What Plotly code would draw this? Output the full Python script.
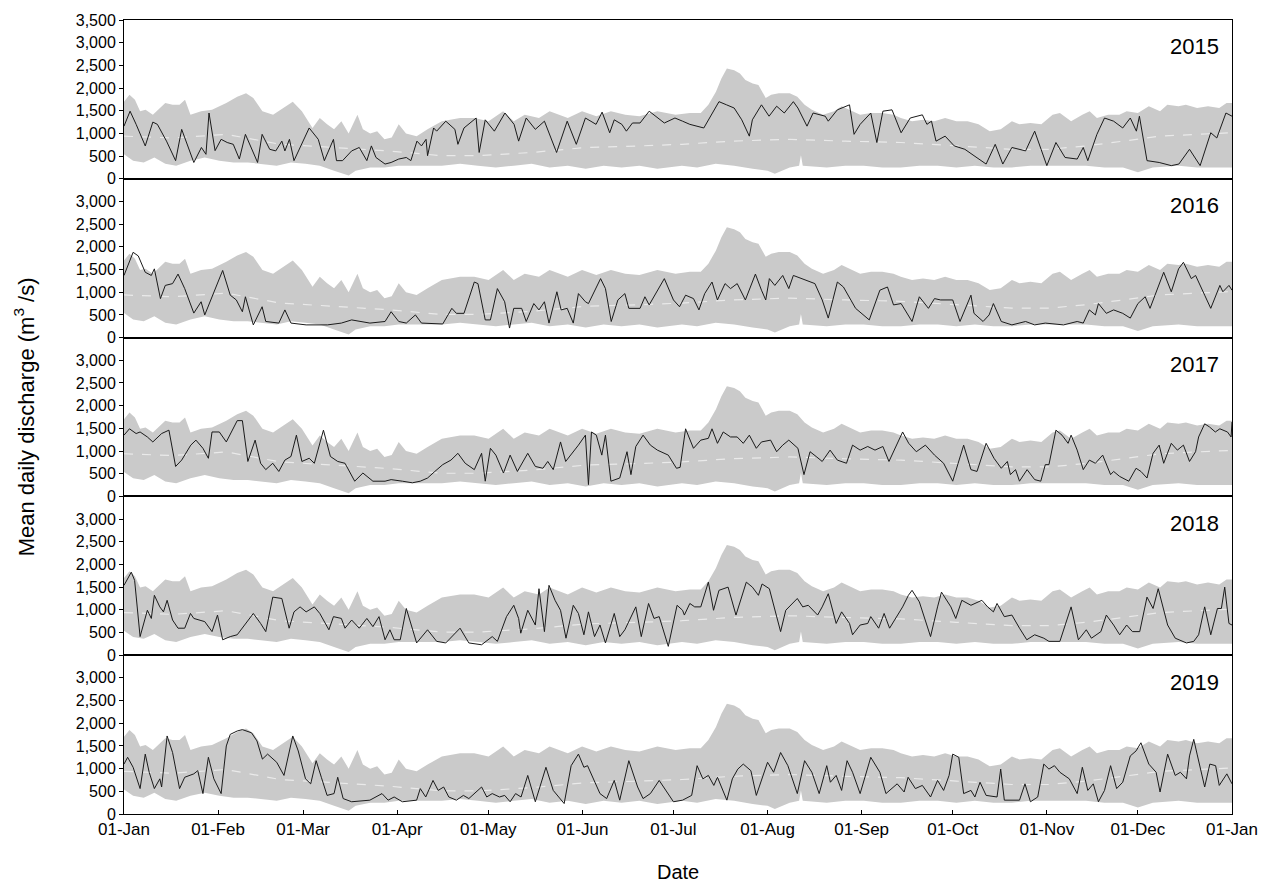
import plotly.graph_objects as go
from plotly.subplots import make_subplots

# ---------------- data (day of year, discharge m3/s) ----------------
years = ["2015", "2016", "2017", "2018", "2019"]

month_days = [0, 31, 59, 90, 120, 151, 181, 212, 243, 273, 304, 334, 365]
month_labels = ["01-Jan", "01-Feb", "01-Mar", "01-Apr", "01-May", "01-Jun", "01-Jul",
                "01-Aug", "01-Sep", "01-Oct", "01-Nov", "01-Dec", "01-Jan"]

y_ticks_top = [0, 500, 1000, 1500, 2000, 2500, 3000, 3500]
y_ticks = [0, 500, 1000, 1500, 2000, 2500, 3000]

# historical envelope (upper / lower) and long-term mean
band_upper = [(0, 1700), (1.8, 1850), (3.6, 1740), (5.3, 1490), (7.1, 1520), (9.5, 1410), (13.6, 1670),
              (16, 1630), (18.3, 1630), (20.1, 1740), (21.9, 1410), (25.4, 1490), (29, 1520), (33.7, 1670),
              (37.3, 1810), (40.2, 1885), (42.6, 1780), (45.6, 1490), (49.1, 1410), (52.7, 1560), (55.6, 1700),
              (58.6, 1490), (62.1, 1120), (64.5, 1340), (66.9, 1200), (69.2, 1090), (71.6, 1270), (74, 1000),
              (76.9, 1410), (78.7, 1090), (81.1, 1000), (83.4, 1050), (85.8, 870), (88.2, 910), (90.5, 1200),
              (92.9, 1000), (96.4, 940), (100, 1090), (104.7, 1270), (110.7, 1340), (115.4, 1340),
              (120.1, 1270), (124.9, 1490), (128.4, 1270), (132, 1410), (136.7, 1340), (140.2, 1490),
              (146.2, 1340), (150.9, 1490), (155.6, 1380), (160.4, 1490), (165.1, 1410), (169.8, 1380),
              (175.7, 1490), (181.7, 1410), (186.4, 1450), (190, 1450), (192.5, 1630), (195, 1920),
              (196.8, 2210), (198.6, 2430), (201, 2390), (202.9, 2320), (204.7, 2175), (207.1, 2100),
              (209, 2070), (211.4, 1780), (213.2, 1850), (215.7, 1885), (219.3, 1885), (221.8, 1810),
              (224.2, 1630), (226.6, 1520), (230.3, 1410), (233.9, 1490), (236.4, 1600), (238.8, 1520),
              (242.5, 1410), (246.1, 1450), (249.8, 1450), (253.5, 1410), (255.9, 1340), (259.6, 1270),
              (263.2, 1300), (266.9, 1270), (270.5, 1340), (274.2, 1270), (277.9, 1270), (281.5, 1200),
              (285.2, 1050), (288.8, 1090), (292.5, 1270), (295, 1200), (298.6, 1230), (302.2, 1200),
              (305.9, 1410), (308.3, 1450), (312, 1270), (315.7, 1410), (318.1, 1490), (320.5, 1340),
              (324.2, 1410), (327.9, 1410), (330.3, 1490), (334, 1450), (337.6, 1600), (341.3, 1490),
              (343.7, 1630), (347.4, 1600), (349.8, 1630), (353.5, 1560), (357.1, 1600), (360.8, 1560),
              (363.2, 1670), (365, 1670)]

band_lower = [(0, 540), (3, 400), (6.5, 360), (10, 470), (13.6, 330), (17.2, 290), (21.9, 400), (26.6, 470),
              (31.4, 400), (36.1, 360), (40.8, 360), (45.6, 330), (50.3, 290), (55, 360), (59.8, 330),
              (64.5, 290), (69.2, 180), (74, 70), (76.3, 180), (81.1, 250), (85.8, 250), (90.5, 290),
              (95.3, 290), (100, 290), (104.7, 290), (110.7, 330), (116.6, 290), (122.5, 250), (128.4, 290),
              (134.3, 330), (140.2, 250), (146.2, 290), (152.1, 220), (158, 290), (163.9, 250), (169.8, 290),
              (175.7, 220), (183.8, 290), (188.8, 250), (194.9, 330), (201, 290), (207.1, 220), (212, 180),
              (214.4, 110), (219.3, 250), (222.4, 290), (223, 520), (223.6, 290), (225.4, 290), (231.5, 250),
              (237.6, 290), (243.7, 290), (249.8, 250), (255.9, 250), (262, 290), (268.1, 290), (274.2, 250),
              (280.3, 290), (286.4, 250), (292.5, 250), (298.6, 290), (304.7, 290), (310.8, 290),
              (316.9, 290), (323, 250), (329.1, 250), (334, 145), (338.9, 250), (347.4, 290), (353.5, 250),
              (359.6, 250), (365, 250)]

mean_flow = [(0, 940), (16, 900), (33.7, 980), (51.5, 760), (69.2, 690), (87, 615), (104.7, 510),
             (116.6, 510), (134.3, 580), (152.1, 690), (169.8, 725), (183.8, 760), (200, 830), (219.3, 870),
             (237.6, 830), (255.9, 800), (274.2, 725), (292.5, 650), (304.7, 650), (316.9, 725),
             (329.1, 830), (341.3, 940), (353.5, 980), (365, 1015)]

# daily discharge of each year
obs_2015 = [(0, 1160), (2, 1490), (4, 1200), (7, 725), (9.5, 1250), (11, 1200), (14, 830), (17, 400),
            (19, 1090), (23, 360), (25.5, 690), (27, 540), (28, 1450), (30, 620), (32, 870), (34, 800),
            (36, 760), (38, 435), (40, 980), (44, 360), (45.5, 980), (48, 650), (50, 615), (52, 830),
            (53, 615), (54.5, 870), (56, 400), (61, 1120), (64, 870), (66, 400), (69, 870), (70, 400),
            (72, 400), (75, 615), (77.5, 690), (80, 400), (81.5, 725), (83, 470), (86, 325), (88, 360),
            (90.5, 435), (93, 470), (94.5, 400), (96.5, 830), (98, 725), (99.5, 870), (100, 510),
            (102, 1120), (103, 1050), (106, 1270), (109, 1090), (110, 760), (112, 1120), (116, 1340),
            (117, 580), (119, 1300), (122, 1050), (125.5, 1450), (128.5, 1200), (130, 830), (132.5, 1340),
            (135.5, 1090), (138.5, 1270), (142.5, 580), (146, 1270), (149, 760), (152, 1340), (155.5, 1200),
            (157.5, 1470), (160, 1015), (161.5, 1300), (164, 1200), (165.5, 1050), (167.5, 1230),
            (170, 1230), (173, 1490), (178, 1230), (181.5, 1340), (184, 1270), (186.4, 1200), (191, 1120),
            (194, 1450), (196, 1700), (198.5, 1630), (201, 1560), (203.5, 1300), (206, 940), (207, 1300),
            (210, 1630), (212.5, 1380), (215, 1600), (217.5, 1450), (220.5, 1700), (222, 1560),
            (225, 1160), (227, 1450), (231, 1380), (232, 1270), (235, 1520), (239, 1630), (240.5, 980),
            (242.5, 1200), (246, 1450), (248, 800), (250, 1490), (253, 1520), (256, 1015), (259, 1340),
            (263, 1410), (264.5, 1200), (266, 1270), (267.5, 830), (270.5, 940), (273.5, 725), (277, 650),
            (280, 510), (284, 325), (287, 760), (289.5, 325), (292.5, 690), (297, 615), (300, 1050),
            (304, 290), (307, 800), (310, 470), (314, 435), (316, 690), (317.5, 400), (320.5, 980),
            (323, 1340), (326, 1270), (329, 1120), (331.5, 1340), (333.5, 1050), (334.5, 1380), (337, 400),
            (341, 360), (345, 290), (347.5, 325), (351, 650), (354.5, 290), (358, 1015), (360, 900),
            (363, 1450), (365, 1380)]

obs_2016 = [(0, 1370), (3, 1880), (4.7, 1800), (7, 1440), (9, 1370), (10, 1515), (12, 860), (13.6, 1150),
            (16, 1190), (17.8, 1400), (20, 1080), (23, 540), (25.4, 790), (26.6, 500), (32.5, 1480),
            (35, 935), (37, 830), (39, 570), (40, 900), (42.6, 280), (45.5, 680), (46.7, 355), (51, 320),
            (53, 610), (55, 320), (60, 280), (67, 280), (71.6, 320), (75, 390), (78.7, 355), (81, 320),
            (86, 355), (88, 570), (90.5, 355), (93, 320), (96, 500), (98, 320), (105, 300), (108, 645),
            (109.5, 535), (112, 535), (115.4, 1225), (116.6, 1190), (119, 390), (120.7, 390), (123, 1080),
            (125.4, 790), (127, 210), (128.4, 645), (131, 645), (132.5, 355), (135, 750), (136.7, 610),
            (138.5, 790), (140, 320), (142.6, 1010), (144, 610), (146, 645), (148, 320), (149.7, 970),
            (152, 790), (153, 750), (157, 1300), (158.6, 1080), (160.5, 355), (162.7, 830), (165, 970),
            (166.3, 645), (170, 645), (171.6, 900), (173, 720), (178, 1300), (181, 830), (183, 680),
            (185, 935), (187.6, 860), (189.4, 610), (191.3, 970), (193.7, 1225), (195.5, 830), (198, 1190),
            (199.8, 1080), (202, 1190), (204.7, 830), (208, 1400), (210, 1045), (211.4, 830), (212.6, 1300),
            (214.4, 1150), (217, 1370), (219, 1080), (220.5, 1370), (222, 1335), (227.6, 1190), (230, 830),
            (232, 430), (235, 1225), (237, 1115), (241, 645), (245.5, 390), (249, 1045), (251.5, 1115),
            (253.5, 720), (256, 750), (259.6, 355), (262, 900), (265, 645), (267, 860), (269, 830),
            (273, 830), (275.4, 355), (279, 935), (280, 535), (283, 355), (285, 500), (286.4, 750),
            (289, 355), (292.5, 280), (297, 355), (300, 280), (303.5, 320), (309.5, 280), (314, 355),
            (316, 320), (318, 610), (320, 500), (321, 750), (323.6, 535), (326, 610), (329, 535),
            (331.5, 430), (334, 750), (336.4, 900), (338, 645), (342.5, 1440), (345, 1010), (347.4, 1515),
            (349, 1660), (351.6, 1300), (353, 1370), (356, 935), (358, 645), (361, 1150), (362, 1010),
            (364, 1150), (365, 1045)]

obs_2017 = [(0, 1350), (1.8, 1490), (4, 1385), (5.3, 1420), (7.7, 1310), (9.5, 1200), (12.4, 1385),
            (14.8, 1460), (17, 660), (19, 800), (22, 1130), (23.7, 1240), (26, 1060), (27.8, 840),
            (29, 1420), (31.4, 1420), (33.7, 1200), (37.3, 1670), (39, 1670), (40.8, 770), (43.2, 1240),
            (45, 730), (46.7, 590), (49, 730), (51, 550), (53, 800), (55, 880), (56.8, 1350), (58.6, 770),
            (61, 840), (62.7, 730), (65.7, 1460), (68, 880), (70.4, 770), (72.8, 730), (76, 335),
            (78.7, 515), (82, 335), (86, 335), (88, 370), (91.7, 335), (95, 300), (97.6, 335), (100, 405),
            (102.4, 550), (105, 700), (107.7, 800), (110, 950), (112.4, 730), (115.4, 590), (117.8, 950),
            (119, 335), (120.7, 1060), (122.5, 910), (125, 515), (127.2, 910), (129.6, 550), (133, 950),
            (135.5, 660), (138, 620), (139.6, 770), (141.4, 590), (143.8, 1200), (145.5, 770),
            (149.7, 1130), (152, 1350), (153, 260), (154, 1420), (155.6, 1350), (157.4, 910), (158.6, 1350),
            (160.4, 335), (163.3, 405), (165.7, 985), (167, 480), (168.6, 1100), (171, 1350), (173.4, 1130),
            (175.7, 1020), (179.3, 910), (182, 620), (183.2, 640), (185, 1490), (187.6, 1060), (190, 1240),
            (192.5, 1280), (193.7, 1490), (195.5, 1170), (197.4, 1420), (199.8, 1310), (202, 1310),
            (204, 1170), (206, 1350), (208.3, 1060), (210, 1200), (213, 1240), (215, 985), (217, 1130),
            (219, 1240), (222, 1060), (224, 480), (226, 985), (228, 880), (230, 770), (232.6, 1020),
            (235, 800), (238, 730), (240, 1130), (242.5, 1020), (245, 1100), (247.4, 1020), (250, 1100),
            (252, 770), (254.7, 1170), (256.5, 1420), (258.5, 1170), (261, 985), (264, 1130), (267, 910),
            (270, 730), (273, 335), (276.6, 1130), (279, 590), (281, 550), (284, 1170), (286.6, 840),
            (289, 620), (291, 770), (292, 480), (293.7, 590), (295, 335), (297.5, 590), (300, 370),
            (302, 335), (303.5, 700), (304.7, 700), (307, 1460), (309, 1350), (311, 1170), (312, 1350),
            (314, 1020), (316, 590), (318, 800), (320, 730), (322.4, 910), (325, 480), (326, 550),
            (328, 440), (331, 335), (333.4, 620), (335, 550), (337, 405), (339, 950), (341, 1130),
            (342.5, 730), (345, 1170), (347, 1020), (349, 1130), (351, 770), (353, 985), (354, 1310),
            (356, 1600), (357.6, 1530), (359.5, 1420), (361, 1490), (363.5, 1420), (364.7, 1310),
            (365, 1640)]

obs_2018 = [(0, 1540), (2.4, 1830), (3.5, 1650), (5.3, 410), (7.7, 990), (9, 810), (10, 1320), (11.8, 1065),
            (13, 955), (14.2, 1210), (16, 775), (17.8, 595), (20, 595), (21.9, 920), (23, 810), (26.6, 740),
            (29, 520), (30.8, 885), (32.5, 340), (35, 410), (37.3, 450), (39, 595), (42.6, 920), (45, 700),
            (46.7, 520), (49, 1280), (52, 1250), (54.4, 595), (56, 955), (58, 1065), (60, 955),
            (62.7, 1065), (64.5, 920), (67.5, 560), (69, 850), (71.6, 810), (72.8, 595), (75, 775),
            (77.5, 595), (80, 810), (82, 630), (84, 850), (86, 340), (87.6, 560), (89, 340), (91, 340),
            (93, 1030), (96.4, 270), (100, 560), (103, 305), (106, 270), (110.7, 595), (113.6, 270),
            (117.8, 230), (121.3, 410), (123, 305), (126, 850), (128.4, 1100), (130, 810), (130.7, 485),
            (133, 990), (135.5, 665), (136.7, 1465), (138.5, 520), (140, 1540), (142, 1210), (143.8, 990),
            (145.6, 375), (148, 1100), (149.7, 920), (151.5, 450), (153, 955), (155, 410), (156.8, 665),
            (158.6, 270), (161.5, 920), (163.3, 410), (165, 560), (168.6, 1065), (170.4, 410),
            (172.8, 1140), (174.6, 810), (176.3, 850), (179.3, 195), (182.2, 1100), (184, 990),
            (184.6, 885), (186.4, 1140), (188, 1065), (190, 1065), (192.5, 1610), (194.2, 990), (196, 1430),
            (199, 1500), (201.6, 885), (205, 1610), (207, 1500), (209, 1320), (210.2, 1570), (212.6, 1465),
            (215, 810), (216.3, 520), (218, 990), (221.8, 1250), (223.6, 1065), (225.4, 1100), (228.5, 885),
            (230, 1065), (232, 1355), (234.6, 700), (236.4, 955), (239, 700), (240, 450), (242.5, 665),
            (245, 700), (246, 850), (248.6, 595), (250.4, 920), (252.2, 595), (254.7, 885), (256.5, 1065),
            (258.4, 1320), (259.6, 1430), (262, 1175), (265.7, 410), (268, 1065), (269.3, 1390),
            (272.4, 1065), (274, 810), (276, 1210), (279, 1100), (282.6, 1210), (284.5, 1065), (286.4, 955),
            (287.6, 1140), (290, 850), (292.5, 885), (295, 595), (297.4, 340), (300, 450), (303, 375),
            (304.7, 305), (308.3, 305), (312, 1065), (314.4, 340), (317, 560), (318.7, 375), (321.8, 520),
            (323.6, 885), (326, 665), (328, 450), (330.3, 665), (332.2, 520), (334.6, 520), (337, 1280),
            (339, 1030), (340.7, 1465), (343.8, 665), (346.3, 375), (350, 270), (352.4, 305), (354, 450),
            (356, 1065), (358, 450), (360.2, 1030), (361.5, 1030), (362.6, 1500), (364, 700), (365, 665)]

obs_2019 = [(0, 1100), (1.2, 1250), (3, 1030), (5.3, 560), (7, 1320), (8.3, 920), (10, 560), (11.8, 775),
            (12.4, 595), (14.2, 1720), (16, 1355), (18.3, 560), (20, 810), (23, 885), (24.3, 955), (26, 450),
            (27.8, 1250), (29.6, 775), (32, 450), (33.7, 1500), (35, 1755), (37.3, 1830), (39, 1860),
            (42, 1790), (43.8, 1610), (45.6, 1210), (47.3, 1320), (50.3, 1140), (52.7, 850), (55.6, 1720),
            (57.4, 1390), (59.8, 775), (61.5, 665), (63.3, 1175), (65, 810), (66.9, 410), (69.2, 450),
            (70.4, 810), (72.2, 340), (75, 270), (81, 305), (85, 450), (87, 305), (89, 375), (91.7, 270),
            (96.4, 305), (97.6, 560), (99.4, 375), (101.8, 740), (103.5, 520), (105.3, 595), (107, 375),
            (109.5, 305), (111.8, 410), (113.6, 340), (117.8, 595), (119.5, 375), (121.3, 450),
            (123.7, 375), (125.4, 410), (127.2, 270), (129, 450), (130.8, 375), (133, 850), (135.5, 270),
            (139, 1030), (141.4, 520), (145, 230), (147.3, 1065), (149.7, 1320), (151.5, 1030),
            (152.7, 1065), (156.8, 450), (159, 340), (161.5, 740), (163.3, 305), (166.3, 1175), (169.2, 595),
            (171, 340), (173.4, 450), (176.3, 740), (178.7, 485), (181, 270), (184, 305), (185, 340),
            (187, 410), (188.8, 1065), (190.7, 775), (192.5, 850), (194.3, 630), (195.5, 810), (198.6, 305),
            (200.4, 775), (202.2, 990), (204, 1100), (206.5, 955), (208.3, 410), (212, 1140), (214, 920),
            (216.3, 1355), (218.7, 1065), (221.8, 450), (224.2, 1175), (226.6, 920), (229, 450),
            (231.5, 1065), (232.7, 700), (234.6, 850), (236.4, 520), (238.2, 1175), (240, 920), (242.5, 450),
            (246, 1250), (249, 920), (251, 450), (254.7, 665), (257, 485), (258.3, 810), (260.7, 560),
            (263, 630), (265.7, 375), (268, 740), (270, 520), (271.8, 850), (273, 1320), (275, 1250),
            (276.6, 450), (279, 520), (280.3, 375), (282, 700), (284, 410), (287.6, 375), (288.8, 990),
            (290, 305), (295, 305), (296.8, 665), (298.6, 270), (301, 375), (303, 1100), (304.7, 990),
            (306.5, 1065), (308.3, 920), (311.4, 775), (314, 450), (315.7, 1030), (317.5, 520), (319.3, 665),
            (321, 270), (323, 520), (325, 1065), (327, 560), (329, 700), (331.5, 1280), (333.4, 1390),
            (335, 1570), (337.6, 1100), (340, 920), (341.3, 485), (343.8, 1320), (346.3, 850), (348, 920),
            (350, 775), (351, 1280), (352.4, 1645), (353.5, 1320), (356, 595), (357.7, 1100), (359.6, 1065),
            (360.8, 630), (363.3, 885), (365, 665)]

observed = [obs_2015, obs_2016, obs_2017, obs_2018, obs_2019]

# ---------------- figure ----------------
FONT = "Liberation Sans, Arial, sans-serif"
BAND = "rgb(202,202,202)"

fig = make_subplots(rows=5, cols=1, shared_xaxes=True, vertical_spacing=0)

band_x = [d for d, _ in band_upper] + [d for d, _ in reversed(band_lower)]
band_y = [v for _, v in band_upper] + [v for _, v in reversed(band_lower)]

for i, (yr, obs) in enumerate(zip(years, observed), start=1):
    fig.add_trace(go.Scatter(x=band_x, y=band_y, fill="toself", fillcolor=BAND,
                             line=dict(width=0, color=BAND), mode="lines",
                             hoverinfo="skip", showlegend=False), row=i, col=1)
    fig.add_trace(go.Scatter(x=[d for d, _ in mean_flow], y=[v for _, v in mean_flow],
                             mode="lines", line=dict(color="rgba(240,240,240,0.85)", width=1.2, dash="dash"),
                             showlegend=False), row=i, col=1)
    fig.add_trace(go.Scatter(x=[d for d, _ in obs], y=[v for _, v in obs], mode="lines",
                             line=dict(color="#1a1a1a", width=1), showlegend=False), row=i, col=1)

    fig.update_yaxes(range=[0, 3500],
                     tickvals=y_ticks_top if i == 1 else y_ticks,
                     tickformat=",d", ticks="outside", ticklen=4, tickcolor="black",
                     showline=True, mirror=True, linecolor="black", linewidth=1,
                     showgrid=False, zeroline=False,
                     tickfont=dict(family=FONT, size=16, color="black"), row=i, col=1)
    fig.update_xaxes(range=[0, 365], tickvals=month_days, ticktext=month_labels,
                     showline=True, mirror=True, linecolor="black", linewidth=1,
                     showgrid=False, zeroline=False,
                     ticks="inside" if i == 5 else "", ticklen=4, tickcolor="black",
                     tickfont=dict(family=FONT, size=17, color="black"), row=i, col=1)

    xref = "x domain" if i == 1 else f"x{i} domain"
    yref = "y domain" if i == 1 else f"y{i} domain"
    fig.add_annotation(text=yr, xref=xref, yref=yref, x=0.99, y=0.83,
                       xanchor="right", yanchor="middle", showarrow=False,
                       font=dict(family=FONT, size=22, color="black"))

fig.add_annotation(text="Mean daily discharge (m<sup>3</sup> /s)", xref="paper", yref="paper",
                   x=-0.09, y=0.5, textangle=-90, showarrow=False, xanchor="center", yanchor="middle",
                   font=dict(family=FONT, size=22, color="black"))
fig.add_annotation(text="Date", xref="paper", yref="paper", x=0.5, y=-0.073,
                   showarrow=False, xanchor="center", yanchor="middle",
                   font=dict(family=FONT, size=20, color="black"))

fig.update_layout(width=1270, height=890, plot_bgcolor="white", paper_bgcolor="white",
                  margin=dict(l=124, r=36, t=15, b=76), showlegend=False)

fig.write_html("out.html")
